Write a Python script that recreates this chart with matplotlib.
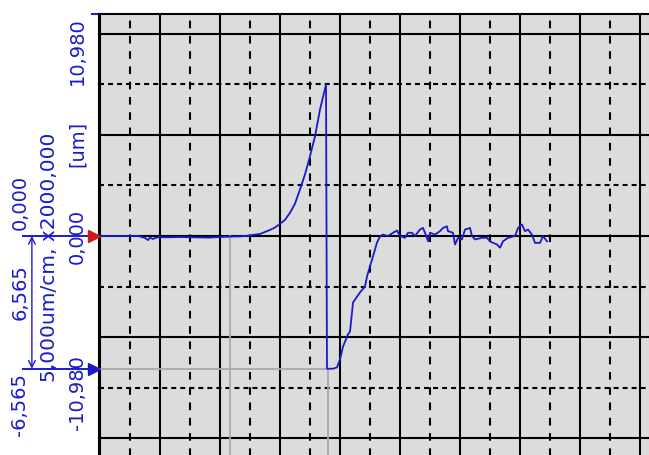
import matplotlib
matplotlib.use('Agg')
import matplotlib.pyplot as plt

# time in grid divisions, displacement in um
t = [-0.025, 0.0, 0.167, 0.333, 0.5, 0.633, 0.7, 0.75, 0.8, 0.833, 0.883, 0.933,
     1.0, 1.167, 1.333, 1.5, 1.667, 1.833, 2.0, 2.167, 2.333, 2.417, 2.5, 2.583,
     2.667, 2.75, 2.833, 2.917, 3.0, 3.083, 3.167, 3.25, 3.333, 3.417, 3.5, 3.583,
     3.667, 3.767, 3.783, 3.883, 3.95, 4.0, 4.05, 4.133, 4.167, 4.2, 4.217, 4.333,
     4.417, 4.45, 4.5, 4.55, 4.617, 4.667, 4.717, 4.8, 4.883, 4.95, 5.0, 5.083,
     5.133, 5.2, 5.25, 5.333, 5.383, 5.417, 5.467, 5.5, 5.583, 5.667, 5.717, 5.783,
     5.8, 5.883, 5.917, 5.967, 6.033, 6.083, 6.167, 6.2, 6.25, 6.367, 6.45, 6.5,
     6.55, 6.617, 6.667, 6.717, 6.8, 6.917, 6.967, 7.033, 7.083, 7.133, 7.2, 7.25,
     7.333, 7.383, 7.45]
um = [0.0, 0.0, 0.0, 0.0, 0.0, 0.0, -0.05, -0.1, -0.2, -0.08, -0.15, -0.08,
      -0.06, -0.06, -0.05, -0.06, -0.07, -0.08, -0.05, -0.03, -0.02, 0.0, 0.03, 0.07,
      0.1, 0.2, 0.3, 0.42, 0.6, 0.8, 1.15, 1.6, 2.3, 3.05, 3.95, 4.92,
      6.26, 7.49, -6.565, -6.565, -6.5, -6.1, -5.47, -4.87, -4.72, -3.78, -3.29, -2.79,
      -2.5, -2.0, -1.5, -1.01, -0.32, -0.02, 0.07, 0.0, 0.16, 0.27, 0.0, -0.09,
      0.16, 0.16, 0.0, 0.32, 0.4, 0.16, -0.26, 0.16, 0.07, 0.24, 0.4, 0.48,
      0.24, 0.16, -0.42, -0.09, -0.17, 0.32, 0.4, 0.0, -0.17, -0.09, -0.09, -0.26,
      -0.34, -0.42, -0.58, -0.26, -0.09, 0.0, 0.4, 0.57, 0.24, 0.32, 0.07, -0.34,
      -0.34, 0.0, -0.26]

y_range = 10.98
scale_text = "5,000um/cm, x2000,000"
cursor1_t, cursor1_um = 2.167, 0.0
cursor2_t, cursor2_um = 3.8, -6.565


def fmt(v):
    return f"{v:.3f}".replace('.', ',')


BLUE = '#1a1acc'
plt.rcParams['lines.scale_dashes'] = False
plt.rcParams['font.family'] = 'DejaVu Sans'

fig = plt.figure(figsize=(6.49, 4.55), dpi=100)
ax = fig.add_axes([98.5 / 649, 1 - 458 / 455, 1 - 98.5 / 649, 444 / 455])
ax.set_facecolor('#dcdcdc')

ax.set_xticks(range(0, 10))
ax.set_xticks([k + 0.5 for k in range(0, 9)], minor=True)
ax.set_yticks([-10, -5, 0, 5, 10])
ax.set_yticks([-7.5, -2.5, 2.5, 7.5], minor=True)
ax.set_xlim(-0.025, 9.15)
ax.set_ylim(-y_range, y_range)
ax.tick_params(which='both', length=0, labelleft=False, labelbottom=False)
ax.set_axisbelow(True)
ax.xaxis.grid(True, which='major', color='black', lw=1.5)
ax.yaxis.grid(True, which='major', color='black', lw=1.5)
ax.xaxis.grid(True, which='minor', color='black', lw=1.5, linestyle=(0, (5.5, 5.5)))
ax.yaxis.grid(True, which='minor', color='black', lw=1.5, linestyle=(0, (3.6, 2.9)))
for side in ['bottom', 'right']:
    ax.spines[side].set_visible(False)
for side in ['left', 'top']:
    ax.spines[side].set_color('black')
    ax.spines[side].set_linewidth(1.5)

# cursors
gray = '#a8a8a8'
ax.plot([cursor1_t, cursor1_t], [cursor1_um, -y_range], color=gray, lw=1.3, zorder=1)
ax.plot([cursor2_t, cursor2_t], [cursor2_um, -y_range], color=gray, lw=1.3, zorder=1)
ax.plot([-0.025, cursor2_t], [cursor2_um, cursor2_um], color=gray, lw=1.3, zorder=1)

ax.plot(t, um, color=BLUE, lw=1.3, zorder=3)

# left-side cursor markers
yt = ax.get_yaxis_transform()
for v, c in [(cursor1_um, '#d01818'), (cursor2_um, BLUE)]:
    ax.plot([-0.137, 0], [v, v], color=BLUE, lw=1.4, transform=yt, clip_on=False, zorder=4)
    ax.plot([-0.008], [v], marker='>', color=c, ms=8, transform=yt, clip_on=False, zorder=5)
ax.plot([-0.012, 0], [y_range, y_range], color=BLUE, lw=1.4, transform=yt, clip_on=False)
ax.annotate('', xy=(-0.121, cursor2_um), xytext=(-0.121, cursor1_um),
            xycoords=yt, textcoords=yt,
            arrowprops=dict(arrowstyle='<->', color=BLUE, lw=1.0, shrinkA=0, shrinkB=0,
                            mutation_scale=12))

tk = dict(color=BLUE, fontsize=14, rotation=90, transform=yt, clip_on=False)
ax.text(-0.1426, cursor1_um + 0.3, fmt(cursor1_um), ha='center', va='bottom', **tk)
ax.text(-0.1426, (cursor1_um + cursor2_um) / 2 + 0.5, fmt(cursor1_um - cursor2_um),
        ha='center', va='center', **tk)
ax.text(-0.1426, cursor2_um - 0.2, fmt(cursor2_um), ha='center', va='top', **tk)
ax.text(-0.039, 0, fmt(0), ha='center', va='center', **tk)
ax.text(-0.039, -5.9, fmt(-y_range), ha='center', va='top', **tk)
ax.text(-0.039, 10.8, fmt(y_range), ha='center', va='top', **tk)
ax.text(-0.039, 3.4, '[um]', ha='center', va='bottom', **tk)
tk['fontsize'] = 14.5
ax.text(-0.089, -7.2, scale_text, ha='center', va='bottom', **tk)

fig.savefig('out.png', dpi=100)
